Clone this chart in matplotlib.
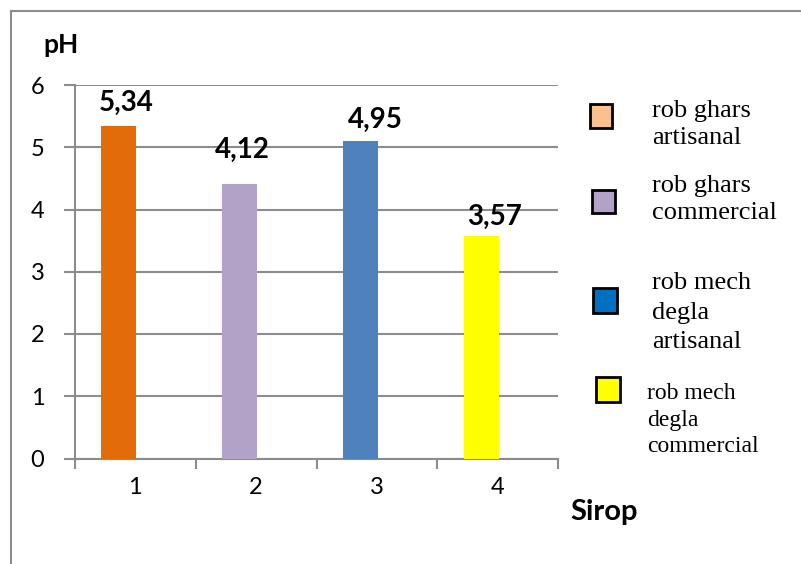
import matplotlib.pyplot as plt
from matplotlib.patches import Rectangle
from matplotlib.lines import Line2D

# data
sirops = [1, 2, 3, 4]
bar_heights = [5.34, 4.41, 5.10, 3.57]
value_labels = ['5,34', '4,12', '4,95', '3,57']
bar_colors = ['#E36C0A', '#B2A2C7', '#4F81BD', '#FFFF00']
legend_names = ['rob ghars\nartisanal', 'rob ghars\ncommercial',
                'rob mech\ndegla\nartisanal', 'rob mech\ndegla\ncommercial']
legend_colors = ['#FAC090', '#B2A2C7', '#0070C0', '#FFFF00']
yticks = [0, 1, 2, 3, 4, 5, 6]

W, H = 801, 564
GRAY = '#8C8C8C'

fig = plt.figure(figsize=(W / 100, H / 100), dpi=100)
ax = fig.add_axes([75 / W, 1 - 458.5 / H, (558 - 75) / W, (458.5 - 85) / H])

# bars sit left of the category centre (excel cluster slot)
shift = -0.137
bar_x = [s + shift for s in sirops]
ax.bar(bar_x, bar_heights, width=0.29, color=bar_colors, zorder=3)

# value labels sit a bit off the bars in the original
label_dx = [7, 3, 15, 13]
label_dy = [23, 34, 21, 19]
for x, h, lab, dx, dy in zip(bar_x, bar_heights, value_labels, label_dx, label_dy):
    ax.annotate(lab, (x, h), xytext=(dx, dy), textcoords='offset pixels',
                ha='center', va='center', fontsize=20, fontweight='bold',
                family='Lato', zorder=4)

ax.set_xlim(0.5, 4.5)
ax.set_ylim(0, 6)
ax.set_yticks(yticks)
ax.set_yticklabels([str(t) for t in yticks], family='Lato', fontsize=17)
ax.yaxis.grid(True, color=GRAY, linewidth=1.5, zorder=0)
ax.set_xticks([0.5, 1.5, 2.5, 3.5, 4.5])
ax.set_xticklabels([])
ax.set_xticks(sirops, minor=True)
ax.set_xticklabels([str(s) for s in sirops], minor=True, family='Lato', fontsize=17)
ax.tick_params(axis='x', which='major', length=7, width=1.5, color=GRAY)
ax.tick_params(axis='x', which='minor', length=0, pad=13)
ax.tick_params(axis='y', length=8, width=1.5, color=GRAY, pad=14)
for s in ['top', 'right']:
    ax.spines[s].set_visible(False)
for s in ['left', 'bottom']:
    ax.spines[s].set_color(GRAY)
    ax.spines[s].set_linewidth(1.5)
ax.set_axisbelow(True)

# axis titles
fig.text(43 / W, 1 - 45 / H, 'pH', fontsize=19, fontweight='bold', family='Lato',
         va='center', ha='left')
fig.text(604 / W, 1 - 512 / H, 'Sirop', fontsize=21, fontweight='bold', family='Lato',
         va='center', ha='center')

# hand-made legend
boxes = [(590, 104, 22, 24), (592, 190, 23, 23), (593, 288, 24, 25), (596, 377, 24, 25)]
text_pos = [(652, 100), (652, 175), (652, 272), (647, 383)]
text_size = [19, 19, 19, 17]
spacing = [1.3, 1.3, 1.45, 1.35]
for (bx, by, bw, bh), (tx, ty), name, col, fs, sp in zip(boxes, text_pos, legend_names,
                                                        legend_colors, text_size, spacing):
    fig.add_artist(Rectangle((bx / W, 1 - (by + bh) / H), bw / W, bh / H,
                             transform=fig.transFigure, facecolor=col,
                             edgecolor='black', linewidth=2))
    fig.text(tx / W, 1 - ty / H, name, family='Liberation Serif', fontsize=fs,
             va='top', ha='left', linespacing=sp)

# chart frame
fig.add_artist(Line2D([11 / W, 1], [1 - 11 / H, 1 - 11 / H], transform=fig.transFigure,
                      color=GRAY, linewidth=1.5))
fig.add_artist(Line2D([11 / W, 11 / W], [0, 1 - 11 / H], transform=fig.transFigure,
                      color=GRAY, linewidth=1.5))

fig.savefig('out.png', dpi=100)
